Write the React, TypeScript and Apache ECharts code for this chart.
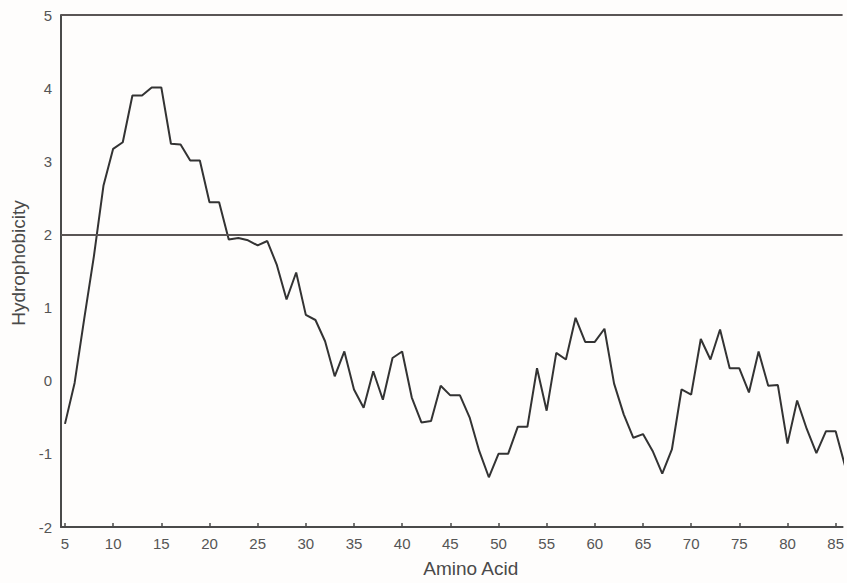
import React, { useEffect, useRef } from "react";
import * as echarts from "echarts";

const aminoAcid = [
  5, 6, 7, 8, 9, 10, 11, 12, 13, 14, 15, 16, 17, 18, 19, 20, 21, 22, 23, 24,
  25, 26, 27, 28, 29, 30, 31, 32, 33, 34, 35, 36, 37, 38, 39, 40, 41, 42, 43, 44,
  45, 46, 47, 48, 49, 50, 51, 52, 53, 54, 55, 56, 57, 58, 59, 60, 61, 62, 63, 64,
  65, 66, 67, 68, 69, 70, 71, 72, 73, 74, 75, 76, 77, 78, 79, 80, 81, 82, 83, 84,
  85, 86,
];

const hydrophobicity = [
  -0.59, -0.03, 0.85, 1.7, 2.67, 3.17, 3.26, 3.9, 3.9, 4.01, 4.01, 3.24, 3.23, 3.01, 3.01, 2.44, 2.44, 1.93, 1.95, 1.92,
  1.85, 1.91, 1.58, 1.11, 1.48, 0.9, 0.83, 0.54, 0.06, 0.4, -0.12, -0.37, 0.13, -0.26, 0.31, 0.4, -0.23, -0.57, -0.55, -0.07,
  -0.2, -0.2, -0.5, -0.96, -1.32, -1.0, -1.0, -0.63, -0.63, 0.17, -0.41, 0.38, 0.29, 0.86, 0.53, 0.53, 0.71, -0.04, -0.46, -0.78,
  -0.73, -0.96, -1.27, -0.94, -0.12, -0.19, 0.57, 0.29, 0.7, 0.17, 0.17, -0.16, 0.4, -0.07, -0.06, -0.86, -0.27, -0.66, -0.99, -0.69,
  -0.69, -1.18,
];

const xTicks = [5, 10, 15, 20, 25, 30, 35, 40, 45, 50, 55, 60, 65, 70, 75, 80, 85];
const referenceLines = [2, 5];

export default function App() {
  const ref = useRef<HTMLDivElement>(null);
  useEffect(() => {
    if (!ref.current) return;
    const chart = echarts.init(ref.current, null, { renderer: "svg" });
    const font = "'Liberation Sans', Arial, Helvetica, sans-serif";
    chart.setOption({
      animation: false,
      backgroundColor: "#fefdfc",
      grid: { left: 61, right: 0, top: 15, bottom: 53, containLabel: false },
      xAxis: {
        type: "value",
        min: 4.587,
        max: 85.72,
        name: "Amino Acid",
        nameLocation: "middle",
        nameGap: 32,
        nameTextStyle: { fontFamily: font, fontSize: 19, color: "#4a4a4a", padding: [0, 0, 0, 38] },
        axisLine: { show: true, onZero: false, lineStyle: { color: "#4a4a4a", width: 2 } },
        axisTick: { show: true, inside: true, length: 4, customValues: xTicks, lineStyle: { color: "#4a4a4a", width: 1.5 } },
        axisLabel: { customValues: xTicks, fontFamily: font, fontSize: 15, color: "#555", margin: 9 },
        splitLine: { show: false },
      },
      yAxis: {
        type: "value",
        min: -2,
        max: 5,
        interval: 1,
        name: "Hydrophobicity",
        nameLocation: "middle",
        nameGap: 31,
        nameTextStyle: { fontFamily: font, fontSize: 19, color: "#4a4a4a", padding: [0, 0, 0, 16] },
        axisLine: { show: true, onZero: false, lineStyle: { color: "#4a4a4a", width: 2 } },
        axisTick: { show: false },
        axisLabel: { fontFamily: font, fontSize: 15, color: "#555", margin: 9 },
        splitLine: { show: false },
      },
      series: [
        {
          type: "line",
          data: aminoAcid.map((a, i) => [a, hydrophobicity[i]]),
          showSymbol: false,
          symbol: "none",
          clip: true,
          lineStyle: { color: "#333", width: 2 },
          markLine: {
            silent: true,
            symbol: "none",
            label: { show: false },
            lineStyle: { color: "#5a5555", width: 2, type: "solid" },
            data: referenceLines.map((v) => ({ yAxis: v })),
          },
        },
      ],
    });
    return () => chart.dispose();
  }, []);
  return (
    <div
      ref={ref}
      style={{ position: "fixed", left: 0, top: 0, width: 847, height: 583 }}
    />
  );
}
